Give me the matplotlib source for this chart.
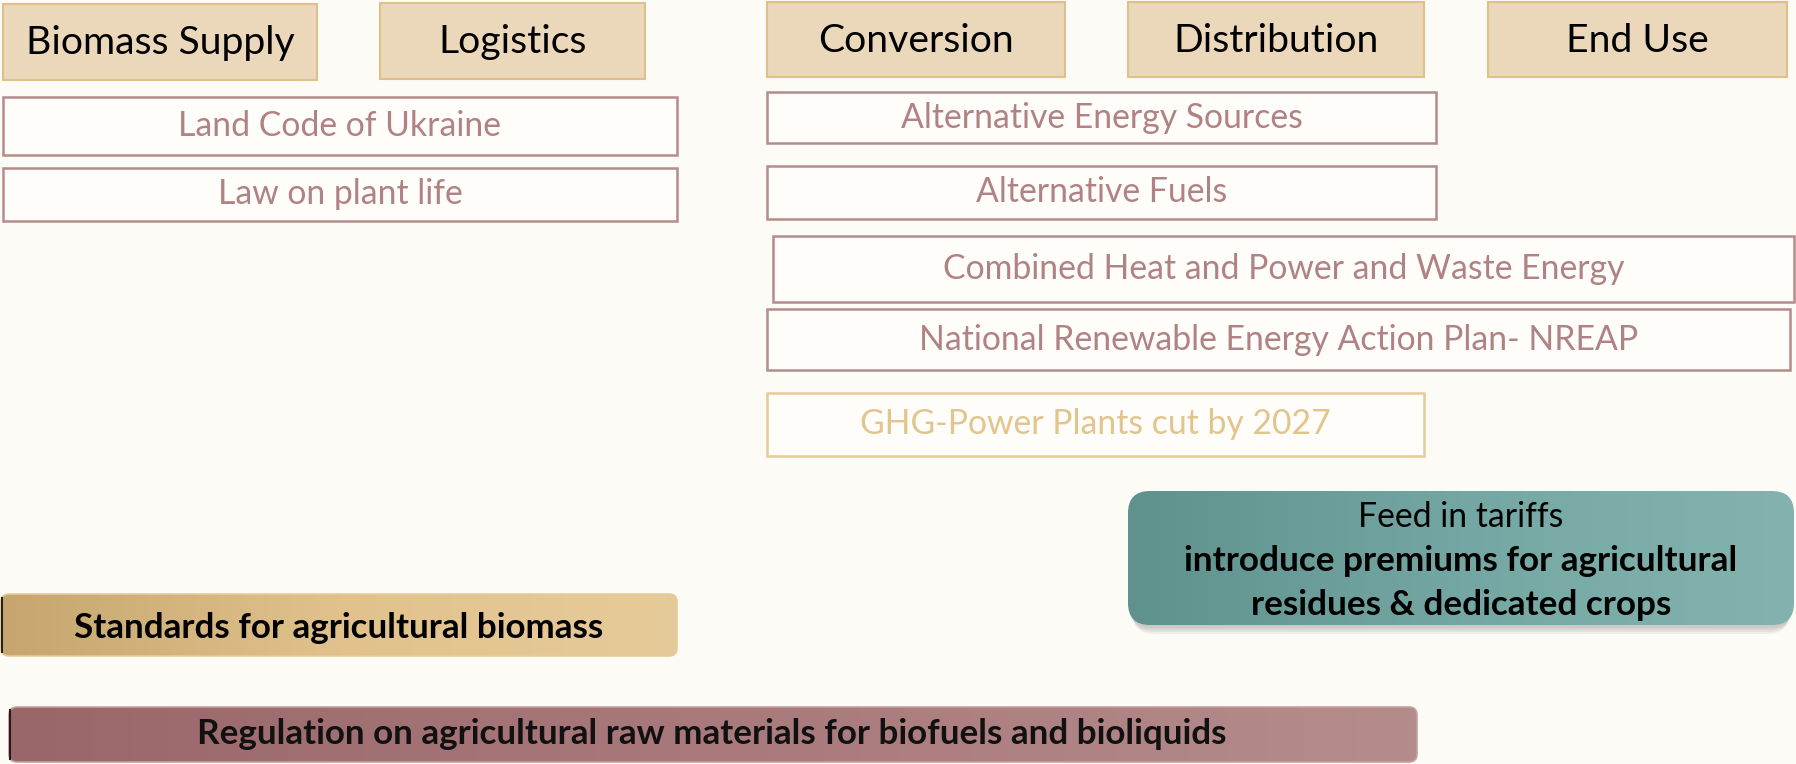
import matplotlib
matplotlib.use("Agg")
import matplotlib.pyplot as plt
import numpy as np
from matplotlib.patches import FancyBboxPatch, Rectangle
from matplotlib.colors import LinearSegmentedColormap

plt.rcParams['font.family'] = ['Lato', 'DejaVu Sans']

# ---- content ----
header_labels = ["Biomass Supply", "Logistics", "Conversion", "Distribution", "End Use"]
left_laws = ["Land Code of Ukraine", "Law on plant life"]
right_laws = ["Alternative Energy Sources", "Alternative Fuels",
              "Combined Heat and Power and Waste Energy",
              "National Renewable Energy Action Plan- NREAP"]
target_label = "GHG-Power Plants cut by 2027"
tariff_title = "Feed in tariffs"
tariff_lines = ["introduce premiums for agricultural", "residues & dedicated crops"]
standards_label = "Standards for agricultural biomass"
regulation_label = "Regulation on agricultural raw materials for biofuels and bioliquids"

W, H = 1796, 764
BG = "#fdfbf6"
fig = plt.figure(figsize=(W / 100, H / 100), dpi=100, facecolor=BG)
ax = fig.add_axes([0, 0, 1, 1])
ax.set_xlim(0, W)
ax.set_ylim(H, 0)
ax.axis("off")
ax.set_facecolor(BG)
fig.canvas.draw()
renderer = fig.canvas.get_renderer()


def fit_size(s, target_w, weight="normal"):
    t = ax.text(0, 0, s, fontsize=20, fontweight=weight)
    w = t.get_window_extent(renderer).width
    t.remove()
    return 20 * target_w / w


hdr_fs = fit_size("Biomass Supply", 269)
law_fs = fit_size("Land Code of Ukraine", 324)
bold_fs = fit_size(regulation_label, 1030, "bold")
tar_fs = fit_size(tariff_lines[0], 554, "bold")
tar_title_fs = fit_size(tariff_title, 206)

# ---- headers ----
hdr_boxes = [(3, 317), (380, 645), (767, 1065), (1128, 1424), (1488, 1787)]
hdr_y = [(4, 80), (3, 79), (2, 77), (2, 77), (2, 77)]
for lab, (x0, x1), (y0, y1) in zip(header_labels, hdr_boxes, hdr_y):
    ax.add_patch(Rectangle((x0, y0), x1 - x0, y1 - y0, facecolor="#ebd7b9",
                           edgecolor="#dfc08b", lw=1.5))
    ax.text((x0 + x1) / 2, (y0 + y1) / 2 + 1, lab, fontsize=hdr_fs, color="black",
            ha="center", va="center")

# ---- outlined law boxes ----
ROSE_E = "#b68b8c"
ROSE_T = "#b08283"
left_boxes = [(3, 677, 97, 155), (3, 677, 168, 221)]
right_boxes = [(767, 1436, 92, 143), (767, 1436, 166, 219),
               (773, 1794, 236, 302), (767, 1790, 309, 370)]
for lab, (x0, x1, y0, y1) in zip(left_laws + right_laws, left_boxes + right_boxes):
    ax.add_patch(Rectangle((x0, y0), x1 - x0, y1 - y0, facecolor="#fefdfa",
                           edgecolor=ROSE_E, lw=1.8))
    ax.text((x0 + x1) / 2, (y0 + y1) / 2, lab, fontsize=law_fs, color=ROSE_T,
            ha="center", va="center")

# GHG target box
x0, x1, y0, y1 = 767, 1424, 393, 456
ax.add_patch(Rectangle((x0, y0), x1 - x0, y1 - y0, facecolor="#fefdfa",
                       edgecolor="#e6cb98", lw=1.8))
ax.text((x0 + x1) / 2, (y0 + y1) / 2, target_label, fontsize=law_fs, color="#e2c48d",
        ha="center", va="center")


# ---- gradient rounded boxes ----
def grad_box(x0, x1, y0, y1, colors, rad, edge=None, zorder=2):
    patch = FancyBboxPatch((x0 + rad, y0 + rad), (x1 - x0) - 2 * rad, (y1 - y0) - 2 * rad,
                           boxstyle=f"round,pad={rad}", facecolor="none",
                           edgecolor=edge if edge else "none", lw=1.2, zorder=zorder + 1)
    ax.add_patch(patch)
    cmap = LinearSegmentedColormap.from_list("g", colors)
    grad = np.linspace(0, 1, 256).reshape(1, -1)
    im = ax.imshow(grad, cmap=cmap, extent=(x0, x1, y1, y0), aspect="auto",
                   zorder=zorder, interpolation="bilinear")
    im.set_clip_path(patch)
    return patch


# shadow for tariff box
for i, a in enumerate([0.05, 0.05, 0.05, 0.05]):
    off = 3 + i * 2
    ax.add_patch(FancyBboxPatch((1128 + 22 + off / 2, 491 + 22 + off), 666 - 44 - off, 134 - 44,
                                boxstyle="round,pad=22", facecolor="black", edgecolor="none",
                                alpha=a, zorder=1))

grad_box(1128, 1794, 491, 625, ["#5f918d", "#74a7a3", "#84b3af"], 22)
cx = (1128 + 1794) / 2
ax.text(cx, 517, tariff_title, fontsize=tar_title_fs, color="black", ha="center",
        va="center", zorder=5)
ax.text(cx, 561, tariff_lines[0], fontsize=tar_fs, fontweight="bold", color="black",
        ha="center", va="center", zorder=5)
ax.text(cx, 605, tariff_lines[1], fontsize=tar_fs, fontweight="bold", color="black",
        ha="center", va="center", zorder=5)

# Standards box
grad_box(1, 677, 594, 656, ["#c6a66e", "#e1c28c", "#e6cb9a"], 8, edge="#e6cb98")
ax.plot([2, 2], [598, 652], color="#2a2218", lw=1.5, zorder=6)
ax.text(339, 628, standards_label, fontsize=bold_fs, fontweight="bold", color="black",
        ha="center", va="center", zorder=5)

# Regulation box
grad_box(9, 1417, 707, 762, ["#996769", "#a9797b", "#b58c8c"], 8, edge="#c4a0a0")
ax.plot([10, 10], [710, 759], color="#2a1a1a", lw=1.5, zorder=6)
ax.text(712, 734, regulation_label, fontsize=bold_fs, fontweight="bold", color="#111111",
        ha="center", va="center", zorder=5)

fig.savefig("out.png", dpi=100, facecolor=BG)
